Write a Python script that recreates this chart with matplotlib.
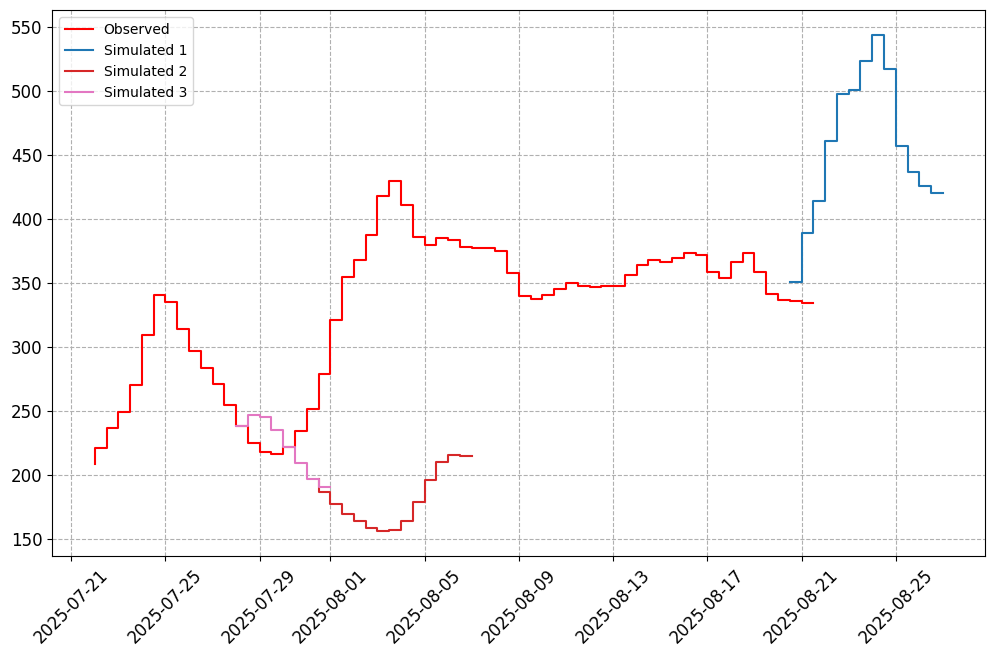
import matplotlib
matplotlib.use("Agg")
import matplotlib.pyplot as plt
import pandas as pd

# Observed series (12-hourly, starting 2025-07-22 00:00)
obs_start = "2025-07-22 00:00"
obs_values = [208.3, 220.4, 236, 248.5, 269.6, 309.4, 340, 335, 313.8, 296.4, 283.6,
              271.1, 254.5, 237.9, 224.6, 217.3, 216, 221.8, 234.2, 251.6, 278.2,
              321, 354.7, 367.9, 387.4, 417.8, 429.3, 410.8, 385.8, 379.3, 385,
              383.5, 378, 377.2, 377.2, 374.9, 357.2, 339.5, 337.4, 340.5, 345.2,
              349.9, 347.6, 346.8, 347.6, 347.6, 356.2, 364, 367.6, 366.3, 369.4,
              373.3, 371.3, 358.5, 353.8, 366.3, 372.8, 358, 341.3, 336.7, 335.9, 334.3]

sim1_start = "2025-08-20 12:00"
sim1_values = [350.5, 350.5, 388.9, 413.7, 460.7, 497.3, 500.2, 523.1, 543.4,
               516.9, 456.8, 436.5, 425.1, 420.1]

sim2_start = "2025-07-31 12:00"
sim2_values = [196.6, 186.1, 176.8, 169, 163.5, 158, 155.7, 156.5, 163.5, 178.3,
               196, 210, 215.5, 214.2]

sim3_start = "2025-07-28 00:00"
sim3_values = [237.9, 237.9, 246.7, 244.6, 235, 221.8, 209, 196.6, 190.6]

labels = ["Observed", "Simulated 1", "Simulated 2", "Simulated 3"]
colors = ["red", "#1f77b4", "#d62728", "#e377c2"]


def times(start, n):
    return pd.date_range(start=start, periods=n, freq="12h")


fig = plt.figure(figsize=(9.95, 6.55), dpi=100)
ax = fig.add_axes([0.0526, 0.1511, 0.9377, 0.8332])

series = [(obs_start, obs_values), (sim1_start, sim1_values),
          (sim2_start, sim2_values), (sim3_start, sim3_values)]
for (start, vals), lab, col in zip(series, labels, colors):
    ax.step(times(start, len(vals)), vals, where="pre", color=col, label=lab, lw=1.5)

ax.grid(True, linestyle="--")
ax.legend(loc="upper left", fontsize=10)
ax.tick_params(axis="both", labelsize=12)
for lbl in ax.get_xticklabels():
    lbl.set_rotation(45)

fig.savefig("out.png", dpi=100)
